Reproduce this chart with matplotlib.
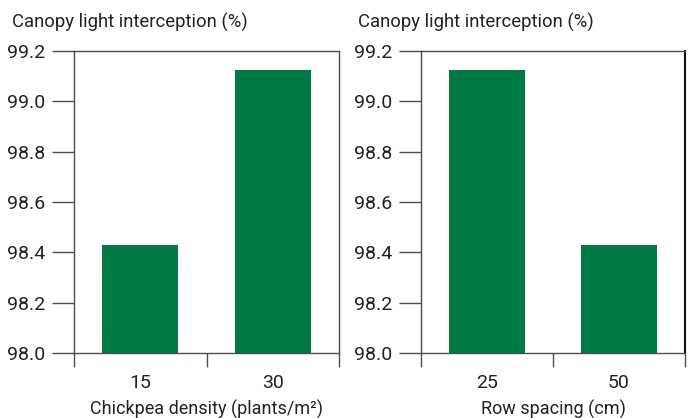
import matplotlib
matplotlib.use("Agg")
import matplotlib.pyplot as plt
from matplotlib.ticker import FixedLocator

plt.rcParams['font.family'] = ['Roboto', 'DejaVu Sans']

density_labels = ["15", "30"]
density_values = [98.43, 99.125]
spacing_labels = ["25", "50"]
spacing_values = [99.125, 98.43]
y_ticks = [98.0, 98.2, 98.4, 98.6, 98.8, 99.0, 99.2]
title = "Canopy light interception (%)"
xlabels = ["Chickpea density (plants/m²)", "Row spacing (cm)"]

green = "#007A45"
spine_col = "#4d4d4d"
text_col = "#222222"

fig = plt.figure(figsize=(6.91, 4.18), dpi=100)
W, H = 691, 418

def add_panel(x0, x1, labels, values, xlabel, title_x):
    ax = fig.add_axes([x0 / W, 1 - 353 / H, (x1 - x0) / W, (353 - 51) / H])
    pos = [i + 0.5 for i in range(len(labels))]
    ax.bar(pos, [v - 98.0 for v in values], bottom=98.0, width=0.575, color=green)
    ax.set_xlim(0, len(labels))
    ax.set_ylim(98.0, 99.2)
    ax.set_yticks(y_ticks)
    ax.set_yticklabels([f"{t:.1f}" for t in y_ticks])
    ax.set_xticks(pos)
    ax.set_xticklabels(labels)
    ax.xaxis.set_minor_locator(FixedLocator(list(range(len(labels) + 1))))
    ax.tick_params(axis='x', which='major', length=0, pad=15, labelsize=14, colors=text_col)
    ax.tick_params(axis='x', which='minor', length=10, width=1.0, color=spine_col, direction='out')
    ax.tick_params(axis='y', length=16, width=1.0, color=spine_col, pad=5, labelsize=14,
                   labelcolor=text_col, direction='out')
    for s in ax.spines.values():
        s.set_color(spine_col)
        s.set_linewidth(1.0)
    ax.set_xlabel(xlabel, fontsize=13, color=text_col, labelpad=6)
    fig.text(title_x / W, 1 - 22 / H, title, fontsize=13.3, color=text_col,
             ha='left', va='center')
    return ax

add_panel(74, 339, density_labels, density_values, xlabels[0], 12)
ax2 = add_panel(421, 685, spacing_labels, spacing_values, xlabels[1], 358)
ax2.spines['right'].set_color('#111111')
ax2.spines['right'].set_linewidth(1.5)

fig.savefig("out.png", dpi=100)
